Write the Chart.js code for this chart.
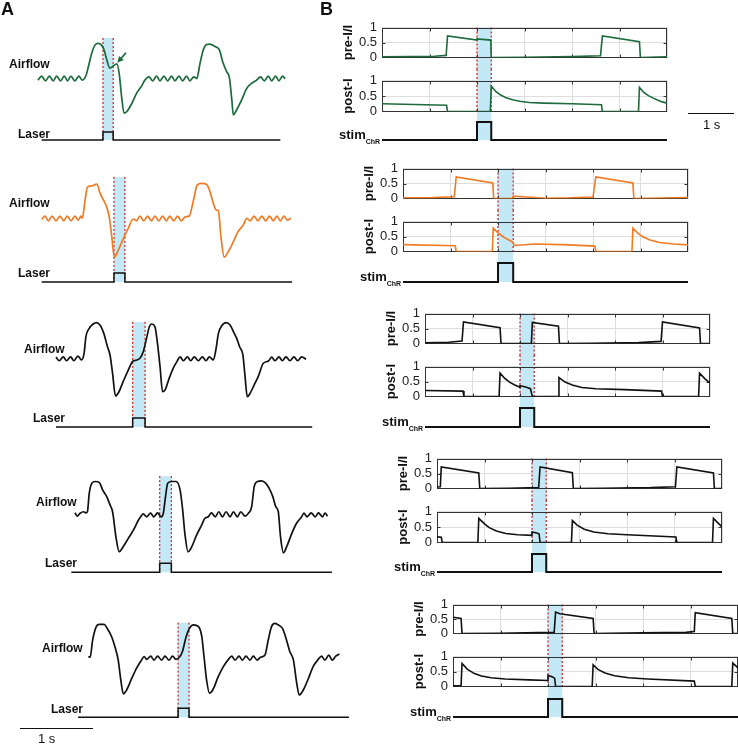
<!DOCTYPE html>
<html>
<head>
<meta charset="utf-8">
<script src="https://cdn.jsdelivr.net/npm/chart.js@4.4.1/dist/chart.umd.min.js"></script>
<style>
  body { margin: 0; background: #fff; }
  #fig { position: relative; width: 738px; height: 744px; overflow: hidden; font-family: Arial, "Liberation Sans", Helvetica, sans-serif; color: #111; }
  #fig canvas { position: absolute; }
  .lbl { position: absolute; white-space: nowrap; line-height: 1; font-weight: bold; }
  .bar { position: absolute; height: 0; border-top: 1.5px solid #111; }
</style>
</head>
<body>
<div id="fig"></div>
<script>
// ---------- Panel A: airflow traces, [time (s), airflow (rel. units)] ----------
const airflow1 = [[0,-0.03],[0.05,0.08],[0.105,-0.05],[0.155,0.08],[0.21,-0.05],[0.255,0.08],[0.31,-0.05],[0.36,0.08],[0.405,-0.05],[0.45,0.08],[0.505,-0.05],[0.56,0.08],[0.605,-0.03],
  [0.66,0.11],[0.69,0.34],[0.735,0.71],[0.78,0.94],[0.825,0.99],[0.87,0.94],[0.905,0.81],[0.94,0.55],[0.985,0.3],[1.03,0.36],[1.08,0.42],[1.115,0.11],[1.145,-0.49],[1.18,-0.95],[1.215,-0.91],[1.285,-0.68],[1.35,-0.4],[1.42,-0.19],[1.465,-0.03],
  [1.52,0.06],[1.57,-0.05],[1.625,0.08],[1.67,-0.05],[1.725,0.08],[1.775,-0.05],[1.83,0.08],[1.875,-0.05],[1.93,0.08],[1.98,-0.05],[2.035,0.08],[2.08,-0.05],[2.135,0.06],[2.175,0.01],
  [2.22,0.44],[2.265,0.81],[2.31,0.96],[2.355,0.97],[2.425,0.9],[2.485,0.81],[2.53,0.48],[2.585,0.2],[2.62,0.06],[2.655,-0.58],[2.675,-1.0],[2.72,-0.86],[2.79,-0.58],[2.86,-0.26],[2.925,-0.12],[2.995,-0.03],
  [3.05,0.06],[3.1,-0.05],[3.155,0.08],[3.2,-0.05],[3.255,0.08],[3.3,-0.05],[3.35,0.08],[3.385,0.01]];
const airflow2 = [[0,-0.01],[0.045,0.08],[0.09,-0.05],[0.145,0.08],[0.195,-0.05],[0.25,0.08],[0.3,-0.05],[0.35,0.08],[0.4,-0.05],[0.455,0.08],[0.5,-0.03],[0.54,0.08],[0.555,0.02],
  [0.595,0.53],[0.625,0.88],[0.685,0.92],[0.755,0.97],[0.8,0.71],[0.845,0.53],[0.89,0.34],[0.925,0.06],[0.96,-0.49],[0.995,-1.06],[1.05,-0.86],[1.12,-0.54],[1.185,-0.26],[1.255,0.0],[1.3,-0.05],
  [1.345,0.08],[1.4,-0.05],[1.45,0.08],[1.505,-0.05],[1.55,0.08],[1.605,-0.05],[1.655,0.08],[1.71,-0.05],[1.755,0.08],[1.81,-0.05],[1.86,0.08],[1.915,-0.05],[1.965,0.06],[2.02,0.08],
  [2.08,0.53],[2.13,0.94],[2.19,0.99],[2.26,0.96],[2.305,0.76],[2.35,0.44],[2.39,0.25],[2.42,0.23],[2.455,-0.49],[2.5,-1.06],[2.555,-0.91],[2.625,-0.63],[2.69,-0.35],[2.76,-0.17],[2.81,0.02],
  [2.855,-0.05],[2.91,0.08],[2.96,-0.05],[3.015,0.08],[3.07,-0.05],[3.12,0.08],[3.175,-0.05],[3.22,0.08],[3.27,-0.05],[3.32,0.08],[3.365,-0.03],[3.415,0.02]];
const airflow3 = [[0,0.06],[0.045,-0.04],[0.1,0.07],[0.145,-0.04],[0.2,0.07],[0.245,-0.04],[0.3,0.09],[0.35,-0.02],
  [0.385,0.17],[0.41,0.63],[0.455,0.86],[0.51,0.98],[0.555,1.02],[0.61,0.93],[0.655,0.72],[0.705,0.35],[0.74,0.12],[0.775,-0.39],[0.815,-1.02],[0.855,-0.93],[0.92,-0.62],[0.99,-0.3],[1.05,-0.06],[1.105,-0.02],
  [1.15,0.03],[1.195,0.21],[1.24,0.58],[1.28,0.91],[1.31,0.98],[1.355,0.91],[1.39,0.44],[1.425,-0.2],[1.46,-0.9],[1.495,-0.85],[1.55,-0.53],[1.605,-0.25],[1.66,-0.05],[1.7,0.07],
  [1.745,-0.04],[1.8,0.07],[1.845,-0.04],[1.895,0.07],[1.95,-0.04],[2.005,0.07],[2.055,-0.04],[2.1,0.07],[2.155,-0.02],
  [2.19,0.26],[2.225,0.72],[2.27,0.93],[2.33,1.02],[2.385,0.95],[2.43,0.77],[2.475,0.58],[2.515,0.35],[2.56,0.12],[2.59,-0.48],[2.62,-1.04],[2.66,-0.94],[2.715,-0.71],[2.77,-0.48],[2.84,-0.11],[2.91,-0.05],[2.955,0.06],
  [3.0,-0.04],[3.055,0.07],[3.1,-0.04],[3.15,0.07],[3.205,-0.04],[3.26,0.07],[3.31,-0.04],[3.365,0.07],[3.425,0.0]];
const airflow4 = [[0,0.06],[0.03,-0.03],[0.07,0.05],[0.115,0.09],[0.15,0.06],[0.17,0.09],
  [0.195,0.6],[0.23,0.88],[0.275,0.93],[0.335,0.9],[0.38,0.69],[0.435,0.51],[0.48,0.28],[0.515,0.09],[0.56,-0.6],[0.605,-1.02],[0.66,-0.88],[0.73,-0.65],[0.8,-0.42],[0.87,-0.14],[0.9,-0.05],
  [0.935,0.03],[0.98,-0.05],[1.035,0.05],[1.08,-0.05],[1.13,0.06],[1.18,-0.05],[1.21,0.05],
  [1.24,0.51],[1.27,0.88],[1.325,0.93],[1.385,0.93],[1.44,0.69],[1.475,0.14],[1.505,-0.51],[1.55,-1.02],[1.6,-0.88],[1.665,-0.56],[1.735,-0.28],[1.78,-0.09],[1.825,-0.05],
  [1.87,0.06],[1.92,-0.05],[1.97,0.09],[2.02,-0.05],[2.07,0.09],[2.125,-0.05],[2.17,0.09],[2.225,-0.05],[2.27,0.09],[2.33,-0.03],[2.375,0.05],
  [2.42,0.23],[2.455,0.79],[2.5,0.93],[2.555,0.95],[2.615,0.88],[2.66,0.74],[2.71,0.51],[2.75,0.23],[2.785,0.09],[2.815,-0.6],[2.855,-1.05],[2.9,-0.88],[2.97,-0.51],[3.035,-0.23],[3.105,-0.05],
  [3.135,0.05],[3.18,-0.05],[3.235,0.06],[3.29,-0.05],[3.335,0.06],[3.39,-0.05],[3.425,0.05],[3.46,-0.03]];
const airflow5 = [[0,0.05],[0.025,0.03],[0.06,0.51],[0.105,0.86],[0.15,0.94],[0.215,0.94],[0.26,0.83],[0.32,0.6],[0.365,0.32],[0.41,-0.05],[0.445,-0.6],[0.48,-0.99],[0.525,-0.88],[0.595,-0.56],[0.66,-0.28],[0.73,-0.05],[0.765,0.05],
  [0.8,-0.03],[0.855,0.06],[0.9,-0.05],[0.95,0.06],[1.005,-0.05],[1.05,0.06],[1.105,-0.05],[1.155,0.06],[1.2,-0.03],[1.255,0.05],
  [1.29,0.19],[1.34,0.6],[1.385,0.83],[1.44,0.93],[1.51,0.88],[1.555,0.6],[1.585,0.05],[1.62,-0.6],[1.66,-0.97],[1.71,-0.86],[1.78,-0.51],[1.85,-0.23],[1.92,-0.03],
  [1.965,0.06],[2.01,-0.05],[2.065,0.06],[2.11,-0.05],[2.16,0.06],[2.215,-0.05],[2.26,0.06],[2.315,-0.05],[2.36,0.03],[2.42,0.09],
  [2.465,0.51],[2.51,0.88],[2.555,0.97],[2.6,0.93],[2.66,0.83],[2.715,0.51],[2.76,0.19],[2.81,-0.05],[2.855,-0.69],[2.89,-1.02],[2.945,-0.88],[3.015,-0.56],[3.08,-0.23],[3.15,-0.03],
  [3.195,0.06],[3.24,-0.05],[3.295,0.09],[3.34,-0.05],[3.39,0.06],[3.44,0.12]];

// laser pulse windows (s) and extent of the laser trace (s)
const laserOn = [0.89, 0.99, 1.05, 1.16, 1.23];
const laserOff = [1.03, 1.14, 1.22, 1.32, 1.38];
const laserFrom = [0.05, 0.0, 0.0, -0.05, -0.14];
const laserTo = [3.32, 3.43, 3.51, 3.52, 3.57];
// green arrow in the first trace: [time, airflow]
const arrowTail = [1.205, 0.73];
const arrowHead = [1.086, 0.45];

// ---------- Panel B: model activity, [time (s), activity] ----------
const bGrid = [0, 1, 2, 3, 4, 5, 6];
const bTicks = [0, 0.5, 1];
const preI1 = [[0,0.02],[0.6,0.03],[1.1,0.04],[1.35,0.07],[1.38,0.72],[2.0,0.58],[2.0,0.62],[2.29,0.58],[2.3,0.0],[3.0,0.01],[4.0,0.03],[4.6,0.06],[4.64,0.72],[5.42,0.53],[5.44,0.0],[6.0,0.02]];
const postI1 = [[0,0.25],[1.36,0.2],[1.38,0.0],[2.28,0.0],[2.3,0.82],[2.4,0.64],[2.5,0.53],[2.6,0.45],[2.75,0.38],[2.9,0.33],[3.1,0.29],[3.4,0.27],[4.0,0.25],[4.62,0.22],[4.64,0.0],[5.4,0.01],[5.42,0.78],[5.5,0.63],[5.6,0.52],[5.7,0.44],[5.8,0.37],[5.9,0.31],[6.0,0.27]];
const preI2 = [[0,0.02],[0.6,0.03],[1.08,0.06],[1.12,0.72],[1.89,0.52],[1.91,0.0],[2.3,0.0],[2.32,0.08],[2.6,0.05],[3.0,0.01],[3.5,0.02],[4.0,0.05],[4.06,0.72],[4.84,0.52],[4.86,0.0],[6.0,0.03]];
const postI2 = [[0,0.23],[1.1,0.19],[1.12,0.0],[1.88,0.0],[1.9,0.78],[2.0,0.62],[2.1,0.5],[2.2,0.41],[2.32,0.31],[2.34,0.2],[2.8,0.25],[3.5,0.22],[4.04,0.18],[4.06,0.0],[4.82,0.0],[4.84,0.78],[4.95,0.6],[5.05,0.49],[5.2,0.38],[5.4,0.3],[5.7,0.25],[6.0,0.22]];
const preI3 = [[0,0.02],[0.5,0.04],[0.78,0.08],[0.81,0.72],[1.58,0.53],[1.6,0.0],[2.24,0.01],[2.26,0.7],[2.81,0.58],[2.83,0.0],[3.5,0.01],[4.5,0.03],[4.97,0.07],[5.0,0.72],[5.78,0.52],[5.8,0.0],[6.0,0.0]];
const postI3 = [[0,0.2],[0.8,0.18],[0.82,0.0],[1.56,0.0],[1.58,0.78],[1.68,0.6],[1.78,0.48],[1.88,0.39],[2.0,0.31],[2.0,0.36],[2.12,0.32],[2.22,0.26],[2.26,0.0],[2.8,0.0],[2.82,0.63],[2.95,0.48],[3.1,0.38],[3.3,0.3],[3.6,0.26],[4.2,0.23],[4.98,0.18],[5.0,0.0],[5.76,0.0],[5.78,0.78],[5.9,0.58],[6.0,0.45]];
const preI4 = [[0,0.05],[0.07,0.06],[0.09,0.72],[0.88,0.52],[0.9,0.0],[1.5,0.01],[2.14,0.03],[2.17,0.72],[2.85,0.53],[2.87,0.0],[3.5,0.01],[4.5,0.03],[5.02,0.06],[5.05,0.72],[5.82,0.52],[5.84,0.0],[6.0,0.0]];
const postI4 = [[0,0.18],[0.09,0.17],[0.11,0.0],[0.86,0.0],[0.88,0.78],[1.0,0.6],[1.1,0.48],[1.25,0.37],[1.45,0.29],[1.7,0.25],[2.0,0.23],[2.0,0.34],[2.1,0.31],[2.15,0.27],[2.17,0.0],[2.83,0.0],[2.85,0.71],[2.95,0.56],[3.1,0.43],[3.3,0.34],[3.6,0.28],[4.0,0.25],[5.03,0.18],[5.05,0.0],[5.8,0.0],[5.82,0.78],[6.0,0.5]];
const preI5 = [[0,0.56],[0.17,0.52],[0.19,0.0],[1.0,0.01],[1.8,0.03],[2.13,0.04],[2.16,0.74],[2.25,0.68],[2.95,0.52],[2.97,0.0],[4.0,0.02],[4.9,0.04],[5.08,0.07],[5.1,0.72],[5.87,0.52],[5.89,0.0],[6.0,0.0]];
const postI5 = [[0,0.02],[0.17,0.03],[0.19,0.77],[0.3,0.58],[0.45,0.43],[0.6,0.35],[0.8,0.29],[1.1,0.25],[1.6,0.22],[2.0,0.2],[2.0,0.37],[2.1,0.32],[2.14,0.27],[2.16,0.0],[2.93,0.0],[2.95,0.72],[3.05,0.57],[3.2,0.45],[3.4,0.36],[3.7,0.29],[4.1,0.25],[5.08,0.18],[5.1,0.0],[5.87,0.0],[5.89,0.78],[6.0,0.62]];
const stimOn = [2.0, 2.0, 2.0, 2.0, 2.0];
const stimOff = [2.3, 2.32, 2.3, 2.3, 2.3];

// ---------- styles & layout ----------
const FONT = 'Arial, "Liberation Sans", Helvetica, sans-serif';
const BAND = '#c3e9f6';
const RED = '#d12a2a';
const colors = ['#1d6a3b', '#f17a22', '#111111', '#111111', '#111111'];
const PX_PER_S_A = 73;
const BOX_W = 285, BOX_H = 36, AXIS_W = 44;

// canvas rows of panel A (pixels inside each row)
const rowsA = [
  { top: 0,   h: 150, base: 79,   las: 140,   lasTop: 132,   x0: 38,   bandTop: 1.14, air: 9,  laser: 18, airY: 64,  laserY: 134 },
  { top: 150, h: 150, base: 69,   las: 132,   lasTop: 123,   x0: 41.7, bandTop: 1.17, air: 9,  laser: 18, airY: 203, laserY: 273 },
  { top: 300, h: 150, base: 59.3, las: 127,   lasTop: 118,   x0: 56,   bandTop: 1.04, air: 24, laser: 33, airY: 349, laserY: 418 },
  { top: 450, h: 150, base: 65,   las: 122.3, lasTop: 113.3, x0: 75,   bandTop: 1.08, air: 36, laser: 45, airY: 502, laserY: 563 },
  { top: 600, h: 144, base: 58.3, las: 117.3, lasTop: 108.3, x0: 88.3, bandTop: 0.99, air: 42, laser: 51, airY: 648, laserY: 709 }
];
// boxes of panel B (absolute pixels)
const groupsB = [
  { x0: 382, pre: 24,  post: 79,  sb: 140, st: 122 },
  { x0: 403, pre: 165, post: 219, sb: 282, st: 263 },
  { x0: 425, pre: 310, post: 364, sb: 427, st: 408 },
  { x0: 437, pre: 455, post: 510, sb: 572, st: 554 },
  { x0: 453, pre: 601, post: 654, sb: 717, st: 699 }
];

const fig = document.getElementById('fig');

function addCanvas(left, top, w, h) {
  const c = document.createElement('canvas');
  c.width = w; c.height = h;
  c.style.left = left + 'px'; c.style.top = top + 'px';
  c.style.width = w + 'px'; c.style.height = h + 'px';
  fig.appendChild(c);
  return c;
}

function addText(html, left, top, size, weight) {
  const d = document.createElement('div');
  d.className = 'lbl';
  d.innerHTML = html;
  d.style.left = left + 'px';
  d.style.top = top + 'px';
  d.style.fontSize = size + 'px';
  d.style.fontWeight = weight || 'bold';
  fig.appendChild(d);
  return d;
}

function addBar(left, top, w) {
  const d = document.createElement('div');
  d.className = 'bar';
  d.style.left = left + 'px'; d.style.top = top + 'px'; d.style.width = w + 'px';
  fig.appendChild(d);
}

const toXY = arr => arr.map(p => ({ x: p[0], y: p[1] }));

// shaded laser window, red dotted edges and the arrow of panel A
const stimA = {
  id: 'stimA',
  beforeDatasetsDraw(chart, args, o) {
    const { ctx } = chart;
    const x = chart.scales.x;
    const x1 = x.getPixelForValue(o.on), x2 = x.getPixelForValue(o.off);
    const top = chart.scales.yAir.getPixelForValue(o.top);
    const bot = chart.scales.yLas.getPixelForValue(0);
    ctx.save();
    ctx.fillStyle = BAND;
    ctx.fillRect(x1, top, x2 - x1, bot - top);
    ctx.strokeStyle = RED;
    ctx.lineWidth = 1.3;
    ctx.setLineDash([2, 2]);
    [x1, x2].forEach(px => {
      ctx.beginPath(); ctx.moveTo(px, top); ctx.lineTo(px, bot); ctx.stroke();
    });
    ctx.restore();
  },
  afterDatasetsDraw(chart, args, o) {
    if (!o.arrow) return;
    const { ctx } = chart;
    const x = chart.scales.x, y = chart.scales.yAir;
    const tx = x.getPixelForValue(arrowTail[0]), ty = y.getPixelForValue(arrowTail[1]);
    const hx = x.getPixelForValue(arrowHead[0]), hy = y.getPixelForValue(arrowHead[1]);
    const ang = Math.atan2(hy - ty, hx - tx);
    ctx.save();
    ctx.strokeStyle = colors[0];
    ctx.fillStyle = colors[0];
    ctx.lineWidth = 1.8;
    ctx.beginPath(); ctx.moveTo(tx, ty);
    ctx.lineTo(hx - 4 * Math.cos(ang), hy - 4 * Math.sin(ang)); ctx.stroke();
    ctx.beginPath();
    ctx.moveTo(hx, hy);
    ctx.lineTo(hx - 7 * Math.cos(ang - 0.45), hy - 7 * Math.sin(ang - 0.45));
    ctx.lineTo(hx - 7 * Math.cos(ang + 0.45), hy - 7 * Math.sin(ang + 0.45));
    ctx.closePath(); ctx.fill();
    ctx.restore();
  }
};

// shaded stimulus, red dotted edges and boxed axes of panel B
const stimB = {
  id: 'stimB',
  beforeDatasetsDraw(chart, args, o) {
    const { ctx, chartArea: a, height } = chart;
    const x = chart.scales.x;
    const x1 = x.getPixelForValue(o.on), x2 = x.getPixelForValue(o.off);
    const top = o.kind === 'pre' ? a.top : 0;
    const bot = o.kind === 'stim' ? chart.scales.y.getPixelForValue(0) : height;
    ctx.save();
    ctx.fillStyle = BAND;
    ctx.fillRect(x1, top, x2 - x1, bot - top);
    if (o.kind !== 'stim') {
      const end = o.kind === 'post' ? a.bottom : height;
      ctx.strokeStyle = RED;
      ctx.lineWidth = 1.3;
      ctx.setLineDash([2, 2]);
      [x1, x2].forEach(px => {
        ctx.beginPath(); ctx.moveTo(px, top); ctx.lineTo(px, end); ctx.stroke();
      });
      ctx.setLineDash([]);
      ctx.strokeStyle = '#333';
      ctx.lineWidth = 1;
      const l = Math.round(a.left) + 0.5, t = Math.round(a.top) + 0.5;
      const r = Math.round(a.right) - 0.5, b = Math.round(a.bottom) - 0.5;
      ctx.strokeRect(l, t, r - l, b - t);
      // short inward ticks
      ctx.beginPath();
      x.ticks.forEach(tk => {
        if (tk.value <= bGrid[0] || tk.value >= bGrid[bGrid.length - 1]) return;
        const p = Math.round(x.getPixelForValue(tk.value)) + 0.5;
        ctx.moveTo(p, t); ctx.lineTo(p, t + 3);
        ctx.moveTo(p, b); ctx.lineTo(p, b - 3);
      });
      const yMid = Math.round(chart.scales.y.getPixelForValue(bTicks[1])) + 0.5;
      ctx.moveTo(l, yMid); ctx.lineTo(l + 3, yMid);
      ctx.moveTo(r, yMid); ctx.lineTo(r - 3, yMid);
      ctx.stroke();
    }
    ctx.restore();
  }
};

const baseOptions = () => ({
  responsive: false,
  animation: false,
  events: [],
  devicePixelRatio: 1,
  plugins: { legend: { display: false }, tooltip: { enabled: false } }
});

// ---------- Panel A ----------
const airflows = [airflow1, airflow2, airflow3, airflow4, airflow5];
rowsA.forEach((r, i) => {
  const cv = addCanvas(0, r.top, 370, r.h);
  const u = r.las - r.lasTop;
  const laser = [[laserFrom[i], 0], [laserOn[i], 0], [laserOn[i], 1], [laserOff[i], 1], [laserOff[i], 0], [laserTo[i], 0]];
  const opts = baseOptions();
  opts.layout = { padding: 0 };
  opts.plugins.stimA = { on: laserOn[i], off: laserOff[i], top: r.bandTop, arrow: i === 0 };
  opts.scales = {
    x: { type: 'linear', display: false, min: -r.x0 / PX_PER_S_A, max: (370 - r.x0) / PX_PER_S_A },
    yAir: { type: 'linear', display: false, min: -(r.h - r.base) / 36, max: r.base / 36 },
    yLas: { type: 'linear', display: false, min: -(r.h - r.las) / u, max: r.las / u }
  };
  new Chart(cv, {
    type: 'line',
    data: {
      datasets: [
        { data: toXY(airflows[i]), yAxisID: 'yAir', borderColor: colors[i], borderWidth: 1.7, pointRadius: 0, cubicInterpolationMode: 'monotone' },
        { data: toXY(laser), yAxisID: 'yLas', borderColor: '#111', borderWidth: 1.5, pointRadius: 0, tension: 0 }
      ]
    },
    options: opts,
    plugins: [stimA]
  });
  addText('Airflow', r.air, r.airY - 6, 12);
  addText('Laser', r.laser, r.laserY - 6, 12);
});
addText('A', 1, 0, 18);
addBar(20, 728, 73);
addText('1 s', 38, 732, 13, 'normal');

// ---------- Panel B ----------
const preI = [preI1, preI2, preI3, preI4, preI5];
const postI = [postI1, postI2, postI3, postI4, postI5];

function boxPanel(data, title, kind, i, left, top, h, padTop, padBot) {
  const cv = addCanvas(left, top, AXIS_W + BOX_W + 2, h);
  const opts = baseOptions();
  opts.layout = { padding: { left: 0, right: 2, top: padTop, bottom: padBot } };
  opts.plugins.stimB = { on: stimOn[i], off: stimOff[i], kind: kind };
  opts.scales = {
    x: {
      type: 'linear', min: bGrid[0], max: bGrid[bGrid.length - 1],
      afterBuildTicks: s => { s.ticks = bGrid.map(v => ({ value: v })); },
      ticks: { display: false },
      grid: { color: '#dedede', drawTicks: false },
      border: { display: false },
      afterFit: s => { s.height = 0; }
    },
    y: {
      type: 'linear', min: bTicks[0], max: bTicks[bTicks.length - 1],
      afterBuildTicks: s => { s.ticks = bTicks.map(v => ({ value: v })); },
      ticks: { padding: 5, color: '#222', font: { family: FONT, size: 13, lineHeight: 1 }, callback: v => String(v) },
      grid: { color: '#dedede', drawTicks: false },
      border: { display: false },
      title: { display: true, text: title, color: '#111', padding: { top: 3, bottom: 0 }, font: { family: FONT, size: 13, weight: 'bold' } },
      afterFit: s => { s.width = AXIS_W; }
    }
  };
  new Chart(cv, {
    type: 'line',
    data: { datasets: [{ data: toXY(data), borderColor: colors[i], borderWidth: 1.6, pointRadius: 0, tension: 0 }] },
    options: opts,
    plugins: [stimB]
  });
}

groupsB.forEach((g, i) => {
  const left = g.x0 - AXIS_W;
  const padPreBot = Math.floor((g.post - g.pre - BOX_H) / 2);
  const preTop = g.pre - 8;
  const preH = 8 + BOX_H + padPreBot;
  const postTop = preTop + preH;
  const postH = (g.post - postTop) + BOX_H + 8;
  boxPanel(preI[i], 'pre-I/I', 'pre', i, left, preTop, preH, 8, padPreBot);
  boxPanel(postI[i], 'post-I', 'post', i, left, postTop, postH, g.post - postTop, 8);

  // stimulus trace
  const stTop = Math.min(g.st - 3, postTop + postH);
  const stH = g.sb + 4 - stTop;
  const u = g.sb - g.st;
  const stim = [[bGrid[0], 0], [stimOn[i], 0], [stimOn[i], 1], [stimOff[i], 1], [stimOff[i], 0], [bGrid[bGrid.length - 1], 0]];
  const cv = addCanvas(left, stTop, AXIS_W + BOX_W + 2, stH);
  const opts = baseOptions();
  opts.layout = { padding: { left: AXIS_W, right: 2, top: 0, bottom: 0 } };
  opts.plugins.stimB = { on: stimOn[i], off: stimOff[i], kind: 'stim' };
  opts.scales = {
    x: { type: 'linear', display: false, min: bGrid[0], max: bGrid[bGrid.length - 1] },
    y: { type: 'linear', display: false, min: -4 / u, max: (g.sb - stTop) / u }
  };
  new Chart(cv, {
    type: 'line',
    data: { datasets: [{ data: toXY(stim), borderColor: '#111', borderWidth: 2, pointRadius: 0, tension: 0 }] },
    options: opts,
    plugins: [stimB]
  });
  addText('stim<span style="font-size:7px;vertical-align:-5px">ChR</span>', g.x0 - 43, g.sb - 12.5, 13);
});
addText('B', 320, 0, 18);
addBar(688, 113, 46);
addText('1 s', 703, 118, 13, 'normal');
</script>
</body>
</html>
